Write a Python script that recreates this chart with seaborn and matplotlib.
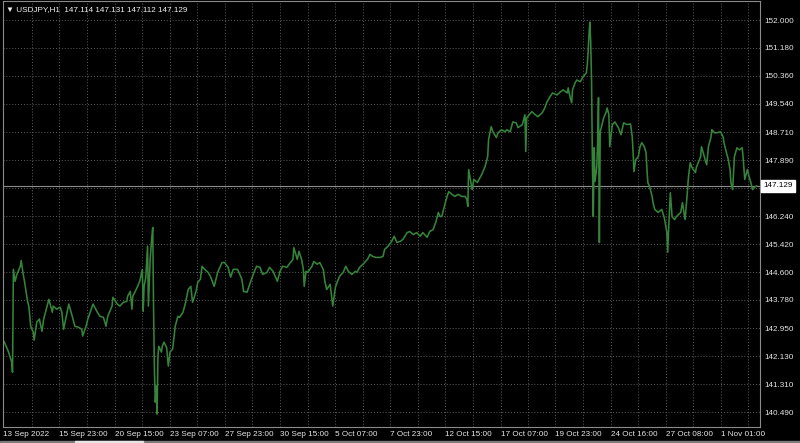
import pandas as pd
import numpy as np
import matplotlib.pyplot as plt
import seaborn as sns
from matplotlib.patches import Rectangle

# hourly bar number (from 13 Sep 2022) and close price
bar = [1, 6, 10, 11, 12, 14, 16, 20, 21, 23,
       25, 28, 30, 32, 35, 36, 39, 42, 45, 47,
       51, 53, 57, 58, 62, 66, 68, 70, 74, 76,
       80, 83, 87, 91, 92, 96, 98, 102, 104, 109,
       112, 116, 119, 121, 126, 127, 132, 135, 139, 143,
       144, 147, 149, 150, 155, 158, 161, 162, 163, 165,
       167, 168, 170, 172, 173, 174, 175, 176, 177, 178,
       179, 180, 183, 184, 186, 189, 191, 193, 196, 199,
       202, 204, 208, 211, 214, 217, 219, 223, 225, 228,
       230, 233, 237, 240, 244, 248, 253, 256, 260, 263,
       266, 271, 276, 278, 282, 285, 289, 293, 297, 300,
       305, 308, 312, 317, 320, 323, 328, 332, 335, 336,
       340, 342, 345, 347, 348, 350, 352, 357, 359, 363,
       366, 370, 372, 374, 378, 381, 384, 386, 389, 393,
       396, 399, 403, 407, 409, 412, 416, 421, 424, 427,
       431, 436, 439, 441, 445, 449, 452, 455, 459, 462,
       467, 470, 474, 478, 482, 485, 490, 493, 497, 500,
       503, 505, 507, 509, 513, 515, 519, 522, 526, 530,
       534, 536, 537, 538, 540, 542, 544, 548, 551, 553,
       557, 560, 561, 564, 566, 570, 572, 576, 580, 582,
       586, 589, 593, 595, 600, 603, 604, 605, 608, 611,
       615, 618, 623, 626, 628, 632, 635, 640, 644, 647,
       652, 653, 655, 657, 658, 661, 663, 667, 670, 674,
       675, 676, 677, 678, 679, 680, 681, 682, 683, 684,
       686, 687, 688, 689, 690, 692, 694, 697, 698, 700,
       701, 704, 707, 711, 714, 717, 721, 725, 727, 728,
       729, 731, 734, 736, 738, 741, 743, 744, 745, 747,
       750, 751, 753, 757, 761, 764, 767, 768, 769, 771,
       773, 776, 778, 783, 785, 788, 790, 792, 794, 796,
       800, 801, 806, 807, 809, 813, 815, 818, 819, 822,
       825, 829, 832, 833, 835, 838, 840, 841, 843, 845,
       848, 851, 854, 855, 857, 860, 862, 864, 866, 869, 871]

close = [142.57, 142.28, 141.96, 141.66, 144.68, 144.33, 144.53, 144.77, 144.94, 144.59,
         144.30, 143.80, 143.57, 143.01, 142.83, 142.60, 143.13, 143.22, 142.86, 143.22,
         143.60, 143.80, 143.42, 143.60, 143.51, 143.57, 143.42, 142.92, 143.42, 143.66,
         143.30, 143.01, 142.98, 142.92, 142.72, 143.01, 143.22, 143.51, 143.66, 143.42,
         143.30, 143.27, 143.01, 143.30, 143.60, 143.86, 143.66, 143.60, 143.71, 143.74,
         143.89, 144.03, 143.51, 143.89, 144.15, 144.33, 144.68, 143.45, 144.18, 144.45,
         145.36, 143.60, 144.97, 145.64, 145.91, 143.42, 141.66, 140.78, 141.25, 140.43,
         142.13, 142.42, 142.25, 142.42, 142.54, 142.39, 141.84, 142.25, 142.34, 143.01,
         143.30, 143.27, 143.42, 143.71, 144.09, 144.18, 143.71, 144.03, 144.30, 144.39,
         144.77, 144.68, 144.59, 144.45, 144.18, 144.59, 144.88, 144.88, 144.74, 144.45,
         144.68, 144.68, 144.39, 144.03, 144.01, 144.24, 144.53, 144.77, 144.74, 144.53,
         144.59, 144.74, 144.62, 144.33, 144.62, 144.77, 144.74, 144.88, 144.97, 145.32,
         144.97, 145.21, 144.97, 144.68, 144.18, 144.62, 144.59, 144.77, 144.91, 144.83,
         144.88, 144.68, 144.30, 144.09, 144.24, 143.60, 144.15, 144.30, 144.48, 144.59,
         144.77, 144.62, 144.53, 144.62, 144.59, 144.74, 144.83, 144.97, 145.12, 145.06,
         145.03, 145.03, 145.06, 145.27, 145.36, 145.50, 145.65, 145.47, 145.50, 145.56,
         145.76, 145.79, 145.70, 145.76, 145.65, 145.76, 145.62, 145.79, 145.85, 146.06,
         146.35, 146.23, 146.23, 146.44, 146.82, 146.96, 146.88, 146.82, 146.88, 146.82,
         146.82, 146.73, 146.53, 147.61, 147.32, 147.02, 147.32, 147.23, 147.37, 147.46,
         147.70, 147.99, 148.49, 148.87, 148.72, 148.55, 148.69, 148.78, 148.72, 148.78,
         148.72, 149.01, 148.98, 148.84, 148.93, 149.22, 148.14, 149.13, 149.22, 149.31,
         149.22, 149.16, 149.28, 149.42, 149.57, 149.75, 149.86, 149.80, 149.89, 149.95,
         149.86, 150.01, 149.75, 149.57, 149.95, 150.16, 150.24, 150.19, 150.33, 150.45,
         150.68, 151.06, 151.56, 151.94, 151.36, 150.19, 147.75, 146.23, 148.25, 147.26,
         147.67, 148.43, 149.72, 145.47, 148.72, 148.93, 149.13, 149.31, 149.42, 149.22,
         148.28, 148.93, 149.01, 148.84, 148.63, 148.98, 148.93, 148.95, 148.57, 148.10,
         147.55, 147.90, 147.99, 148.28, 148.40, 148.28, 148.10, 147.61, 147.23, 147.11,
         146.82, 146.64, 146.44, 146.35, 146.44, 146.20, 145.76, 145.18, 145.85, 146.93,
         146.23, 146.14, 146.23, 146.35, 146.64, 146.14, 146.73, 147.40, 147.81, 147.67,
         147.52, 147.67, 147.99, 148.28, 148.10, 147.75, 148.28, 148.57, 148.78, 148.69,
         148.69, 148.72, 148.57, 148.40, 148.19, 147.90, 147.61, 147.23, 147.02, 147.99,
         148.25, 148.19, 148.25, 147.99, 147.32, 147.61, 147.40, 147.23, 147.02, 147.11, 147.129]

time_ticks = [0, 65, 129, 193, 256, 320, 384, 447, 511, 575, 638, 702, 766, 829]
time_labels = ['13 Sep 2022', '15 Sep 23:00', '20 Sep 15:00', '23 Sep 07:00',
               '27 Sep 23:00', '30 Sep 15:00', '5 Oct 07:00', '7 Oct 23:00',
               '12 Oct 15:00', '17 Oct 07:00', '19 Oct 23:00', '24 Oct 16:00',
               '27 Oct 08:00', '1 Nov 01:00']
price_ticks = [152.000, 151.180, 150.360, 149.540, 148.710, 147.890, 147.060,
               146.240, 145.420, 144.600, 143.780, 142.950, 142.130, 141.310, 140.490]
last_price = 147.129
header = '\u25bc USDJPY,H1  147.114 147.131 147.112 147.129'

df = pd.DataFrame({'bar': bar, 'close': close})

sns.set_theme(style='dark')
plt.rcParams['font.family'] = ['Liberation Sans', 'DejaVu Sans']

fig = plt.figure(figsize=(8, 4.43), dpi=100, facecolor='black')
ax = fig.add_axes([3/800, 16/443, 757/800, 426/443], facecolor='black')

sns.lineplot(data=df, x='bar', y='close', ax=ax, color='#35843a', linewidth=1.15,
             estimator=None)

ax.set_xlim(0, 874.6)
ax.set_ylim(140.05, 152.56)

# grid: every price tick, every half time step
ax.set_yticks(price_ticks)
ax.set_yticklabels(['' if abs(p - 147.06) < 1e-6 else f'{p:.3f}' for p in price_ticks])
ax.set_xticks(time_ticks)
ax.set_xticklabels(time_labels, ha='left')
minor = [(time_ticks[i] + time_ticks[i + 1]) / 2 for i in range(1, len(time_ticks) - 1)]
minor = [33] + minor + [861]
ax.set_xticks(minor, minor=True)
ax.grid(True, which='both', color='#5e5e5e', linestyle=(0, (1, 2)), linewidth=0.7)

ax.yaxis.tick_right()
ax.tick_params(axis='both', which='both', length=0, colors='#e6e6e6', labelsize=5.9)
ax.tick_params(axis='y', pad=3.5)
ax.tick_params(axis='x', pad=3)
ax.set_xlabel('')
ax.set_ylabel('')
for s in ax.spines.values():
    s.set_visible(True)
    s.set_color('#8a8a8a')
    s.set_linewidth(0.8)

ax.axhline(last_price, color='#8c8c8c', linewidth=0.8, zorder=1)
ax.text(1.004, last_price, f'{last_price:.3f}', transform=ax.get_yaxis_transform(),
        ha='left', va='center', fontsize=5.9, color='black', zorder=10, clip_on=False,
        bbox=dict(boxstyle='square,pad=0.3', fc='white', ec='white'))

ax.text(0.004, 0.981, header, transform=ax.transAxes, ha='left', va='center',
        fontsize=5.9, color='#f0f0f0', family=['Liberation Sans', 'DejaVu Sans'])

# window frame strip at the very bottom
fig.patches.append(Rectangle((0, 0), 1, 2/443, transform=fig.transFigure,
                             color='#7a7a7a', zorder=0))
fig.patches.append(Rectangle((75/800, 0), 68/800, 2/443, transform=fig.transFigure,
                             color='#e4e4e4', zorder=1))

fig.savefig('out.png', dpi=100, facecolor='black')
